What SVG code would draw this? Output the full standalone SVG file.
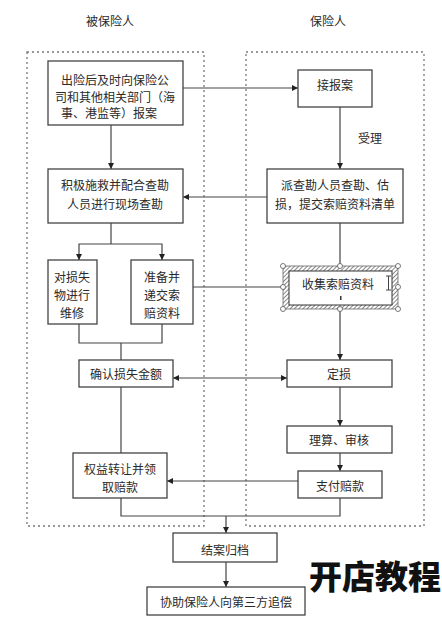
<svg xmlns="http://www.w3.org/2000/svg" width="442" height="621" viewBox="0 0 442 621">
<style>
.t{font-family:"Noto Sans CJK SC","Noto Sans",sans-serif;font-size:12px;fill:#2a2a2a;text-anchor:middle;dominant-baseline:central}
.b{fill:#fff;stroke:#444;stroke-width:1.3}
.c{fill:none;stroke:#444;stroke-width:1.2}
.d{fill:none;stroke:#777;stroke-width:1.3;stroke-dasharray:2 3}
.h{fill:#fff;stroke:#555;stroke-width:0.8}
</style>
<defs>
<marker id="a" viewBox="0 0 10 10" refX="10" refY="5" markerWidth="6" markerHeight="6" orient="auto-start-reverse" markerUnits="userSpaceOnUse"><path d="M0,0L10,5L0,10z" fill="#222"/></marker>
<pattern id="hatch" width="3" height="3" patternUnits="userSpaceOnUse" patternTransform="rotate(45)"><rect width="3" height="3" fill="#fff"/><line x1="0" y1="0" x2="0" y2="3" stroke="#555" stroke-width="1.4"/></pattern>
</defs>
<rect width="442" height="621" fill="#fff"/>
<g id="lanes">
<rect class="d" x="27" y="52" width="177" height="474"/>
<rect class="d" x="246" y="52" width="178" height="474"/>
<text class="t" x="110" y="20">被保险人</text>
<text class="t" x="328" y="20">保险人</text>
</g>
<g id="connectors">
<line class="c" x1="183" y1="88" x2="298" y2="88" marker-end="url(#a)"/>
<line class="c" x1="111" y1="125" x2="111" y2="169" marker-end="url(#a)"/>
<line class="c" x1="340" y1="107" x2="340" y2="169" marker-end="url(#a)"/>
<text class="t" x="370" y="137">受理</text>
<line class="c" x1="267" y1="197" x2="183" y2="197" marker-end="url(#a)"/>
<polyline class="c" points="111,223 111,244"/>
<polyline class="c" points="79,260 79,244 162,244 162,260" marker-start="url(#a)" marker-end="url(#a)"/>
<line class="c" x1="193" y1="287" x2="283" y2="287"/>
<line class="c" x1="340" y1="223" x2="340" y2="266"/>
<polyline class="c" points="79,324 79,343 162,343 162,324"/>
<line class="c" x1="121" y1="343" x2="121" y2="360"/>
<line class="c" x1="340" y1="309" x2="340" y2="360" marker-end="url(#a)"/>
<line class="c" x1="173" y1="378" x2="287" y2="378" marker-start="url(#a)" marker-end="url(#a)"/>
<line class="c" x1="340" y1="387" x2="340" y2="426" marker-end="url(#a)"/>
<line class="c" x1="340" y1="453" x2="340" y2="471" marker-end="url(#a)"/>
<line class="c" x1="121" y1="387" x2="121" y2="453"/>
<line class="c" x1="298" y1="481" x2="167" y2="481" marker-end="url(#a)"/>
<polyline class="c" points="121,498 121,516 340,516 340,498"/>
<line class="c" x1="226" y1="516" x2="226" y2="533" marker-end="url(#a)"/>
<line class="c" x1="226" y1="562" x2="226" y2="587" marker-end="url(#a)"/>
</g>
<g id="n1"><rect class="b" x="48" y="61" width="135" height="64"/>
<text class="t" x="115" y="79">出险后及时向保险公</text><text class="t" x="115" y="96">司和其他相关部门（海</text><text class="t" x="109" y="112">事、港监等）报案</text></g>
<g id="n2"><rect class="b" x="298" y="70" width="74" height="37"/><text class="t" x="335" y="84">接报案</text></g>
<g id="n3"><rect class="b" x="48" y="169" width="135" height="54"/>
<text class="t" x="115" y="184">积极施救并配合查勘</text><text class="t" x="115" y="203">人员进行现场查勘</text></g>
<g id="n4"><rect class="b" x="267" y="169" width="136" height="54"/>
<text class="t" x="335" y="184">派查勘人员查勘、估</text><text class="t" x="335" y="203">损，提交索赔资料清单</text></g>
<g id="n5"><rect class="b" x="48" y="260" width="49" height="64"/>
<text class="t" x="72" y="276">对损失</text><text class="t" x="72" y="294">物进行</text><text class="t" x="72" y="312">维修</text></g>
<g id="n6"><rect class="b" x="131" y="260" width="62" height="64"/>
<text class="t" x="162" y="276">准备并</text><text class="t" x="162" y="294">递交索</text><text class="t" x="162" y="312">赔资料</text></g>
<g id="n7">
<rect x="283" y="266" width="115" height="43" fill="url(#hatch)" stroke="#666" stroke-width="0.8"/>
<rect x="289" y="271" width="103" height="34" fill="#fff" stroke="#333" stroke-width="1"/>
<text class="t" x="338" y="283">收集索赔资料</text>
<rect x="340" y="296" width="1.5" height="4" fill="#333"/>
<path d="M386,276h5M388.5,276v14M386,290h5" stroke="#444" stroke-width="1" fill="none"/>
<circle class="h" cx="283" cy="266" r="2.5"/><circle class="h" cx="340" cy="266" r="2.5"/><circle class="h" cx="398" cy="266" r="2.5"/>
<circle class="h" cx="283" cy="287" r="2.5"/><circle class="h" cx="398" cy="287" r="2.5"/>
<circle class="h" cx="283" cy="309" r="2.5"/><circle class="h" cx="340" cy="309" r="2.5"/><circle class="h" cx="398" cy="309" r="2.5"/>
</g>
<g id="n8"><rect class="b" x="79" y="360" width="94" height="27"/><text class="t" x="126" y="373">确认损失金额</text></g>
<g id="n9"><rect class="b" x="287" y="360" width="105" height="27"/><text class="t" x="339" y="373">定损</text></g>
<g id="n10"><rect class="b" x="287" y="426" width="105" height="27"/><text class="t" x="339" y="439">理算、审核</text></g>
<g id="n11"><rect class="b" x="73" y="453" width="94" height="45"/>
<text class="t" x="120" y="468">权益转让并领</text><text class="t" x="120" y="486">取赔款</text></g>
<g id="n12"><rect class="b" x="298" y="471" width="84" height="27"/><text class="t" x="340" y="485">支付赔款</text></g>
<g id="n13"><rect class="b" x="173" y="533" width="104" height="29"/><text class="t" x="225" y="549">结案归档</text></g>
<g id="n14"><rect class="b" x="147" y="587" width="158" height="28"/><text class="t" x="226" y="601">协助保险人向第三方追偿</text></g>
<text x="375" y="575" font-family="'Noto Sans CJK SC',sans-serif" font-size="33" font-weight="900" fill="#111" text-anchor="middle" dominant-baseline="central">开店教程</text>
</svg>
